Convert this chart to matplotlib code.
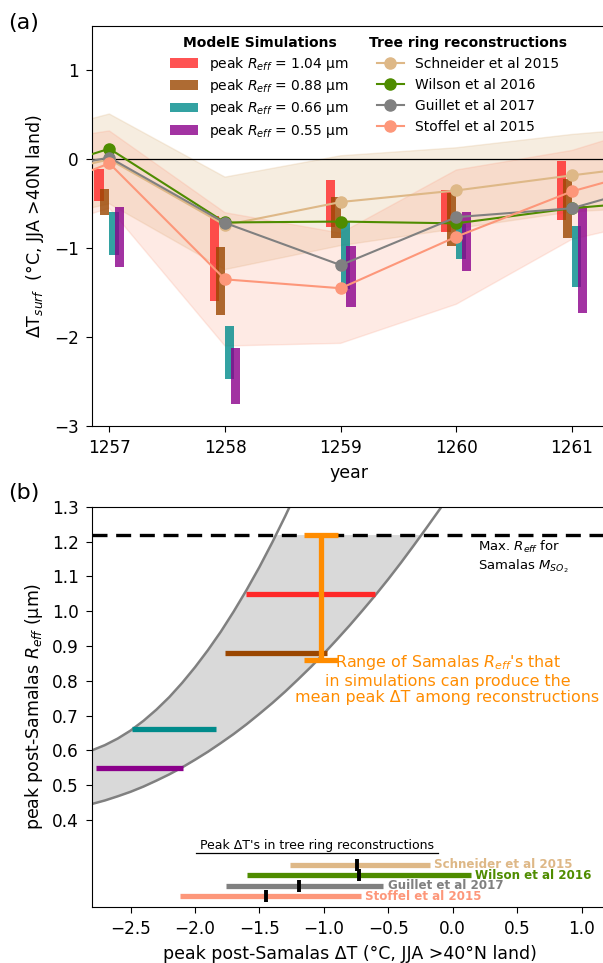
import matplotlib
matplotlib.use("Agg")
import matplotlib.pyplot as plt
import numpy as np
from matplotlib.lines import Line2D
from matplotlib.patches import Patch

# ---------------- panel (a): ModelE simulations ----------------
YEARS = [1257, 1258, 1259, 1260, 1261]
SIM_LABELS = ["1.04", "0.88", "0.66", "0.55"]
SIM_COLORS = ["#ff2828", "#9a4600", "#008b8b", "#8b008b"]
SIM_104_TOP = [-0.11, -0.64, -0.23, -0.34, -0.02]
SIM_104_BOT = [-0.47, -1.59, -0.76, -0.82, -0.68]
SIM_088_TOP = [-0.33, -0.99, -0.42, -0.38, -0.22]
SIM_088_BOT = [-0.63, -1.75, -0.89, -0.98, -0.89]
SIM_066_TOP = [-0.59, -1.87, -0.71, -0.73, -0.75]
SIM_066_BOT = [-1.08, -2.47, -1.46, -1.12, -1.44]
SIM_055_TOP = [-0.54, -2.12, -0.98, -0.59, -0.52]
SIM_055_BOT = [-1.21, -2.75, -1.66, -1.26, -1.73]

# ---------------- panel (a): tree ring reconstructions ----------------
RECON_YEARS = [1256, 1257, 1258, 1259, 1260, 1261, 1262]
RECON_NAMES = ["Schneider et al 2015", "Wilson et al 2016",
               "Guillet et al 2017", "Stoffel et al 2015"]
RECON_COLORS = ["#deb887", "#4f8c00", "#808080", "#fd977a"]
SCHNEIDER = [-0.30, 0.00, -0.74, -0.48, -0.35, -0.18, -0.02]
WILSON = [-0.29, 0.12, -0.71, -0.70, -0.72, -0.55, -0.44]
GUILLET = [-0.22, 0.02, -0.715, -1.19, -0.65, -0.55, -0.18]
STOFFEL = [-0.55, -0.045, -1.35, -1.45, -0.87, -0.36, 0.00]
SCHNEIDER_UP = [0.17, 0.51, -0.20, 0.04, 0.13, 0.28, 0.39]
SCHNEIDER_LO = [-0.80, -0.50, -1.24, -0.97, -0.78, -0.59, -0.52]
STOFFEL_UP = [0.12, 0.32, -0.60, -0.83, -0.12, 0.10, 0.50]
STOFFEL_LO = [-0.95, -0.55, -2.10, -2.07, -1.63, -0.90, -0.60]

# ---------------- panel (b) ----------------
SIM_REFF = [1.05, 0.88, 0.66, 0.55]
SIM_DT_MIN = [-1.607, -1.768, -2.487, -2.766]
SIM_DT_MAX = [-0.607, -0.973, -1.835, -2.094]

RECON_DT_MIN = [-1.266, -1.594, -1.758, -2.114]
RECON_DT_MAX = [-0.176, 0.140, -0.538, -0.714]
RECON_DT_MEAN = [-0.74, -0.725, -1.19, -1.45]

UPPER_CURVE_DT = [-2.8, -2.7, -2.6, -2.5, -2.4, -2.3, -2.2, -2.1, -2.0,
                  -1.9, -1.8, -1.7, -1.6, -1.5, -1.4, -1.3, -1.2]
UPPER_CURVE_REFF = [0.600, 0.615, 0.634, 0.657, 0.685, 0.717, 0.753, 0.794,
                    0.839, 0.888, 0.941, 0.999, 1.061, 1.127, 1.198, 1.273,
                    1.352]
LOWER_CURVE_DT = [-2.8, -2.7, -2.6, -2.5, -2.4, -2.3, -2.2, -2.1, -2.0,
                  -1.9, -1.8, -1.7, -1.6, -1.5, -1.4, -1.3, -1.2, -1.1,
                  -1.0, -0.9, -0.8, -0.7, -0.6, -0.5, -0.4, -0.3, -0.2,
                  -0.1, 0.0]
LOWER_CURVE_REFF = [0.446, 0.456, 0.468, 0.481, 0.496, 0.513, 0.531, 0.551,
                    0.573, 0.596, 0.621, 0.647, 0.675, 0.705, 0.736, 0.769,
                    0.804, 0.840, 0.878, 0.918, 0.959, 1.002, 1.046, 1.092,
                    1.140, 1.190, 1.241, 1.293, 1.348]

MAX_REFF = 1.22
RANGE_DT = -1.025
RANGE_REFF = [0.86, 1.22]

plt.rcParams["font.family"] = "DejaVu Sans"

fig = plt.figure(figsize=(6.03, 9.63), dpi=100)
ax_a = fig.add_axes([0.1526, 0.5576, 0.8536, 0.4154])
ax_b = fig.add_axes([0.1526, 0.0582, 0.8545, 0.4156])

# ---------- panel (a) ----------
ax_a.fill_between(RECON_YEARS, SCHNEIDER_LO, SCHNEIDER_UP,
                  color=RECON_COLORS[0], alpha=0.25, zorder=1)
ax_a.fill_between(RECON_YEARS, STOFFEL_LO, STOFFEL_UP,
                  color=RECON_COLORS[3], alpha=0.2, zorder=1)
ax_a.axhline(0, color="black", lw=0.9, zorder=2)

sim_tops = [SIM_104_TOP, SIM_088_TOP, SIM_066_TOP, SIM_055_TOP]
sim_bots = [SIM_104_BOT, SIM_088_BOT, SIM_066_BOT, SIM_055_BOT]
offsets = [-0.09, -0.04, 0.04, 0.09]
for top, bot, off, color in zip(sim_tops, sim_bots, offsets, SIM_COLORS):
    x = np.asarray(YEARS) + off
    ax_a.bar(x, np.asarray(top) - np.asarray(bot), bottom=bot, width=0.08,
             color=color, alpha=0.8, zorder=3)

for series, color in zip([SCHNEIDER, WILSON, GUILLET, STOFFEL], RECON_COLORS):
    ax_a.plot(RECON_YEARS, series, color=color, marker="o", ms=8, lw=1.5,
              zorder=4)

ax_a.set_xlim(1256.85, 1261.3)
ax_a.set_ylim(-3, 1.5)
ax_a.set_xticks(YEARS)
ax_a.set_yticks([-3, -2, -1, 0, 1])
ax_a.tick_params(labelsize=12.2, length=4.5, pad=5)
ax_a.set_xlabel("year", fontsize=12.5, labelpad=5)
ax_a.set_ylabel("ΔT$_{surf}$  (°C, JJA >40N land)", fontsize=12.5,
                labelpad=6)
ax_a.spines["right"].set_visible(False)

sim_handles = [Patch(facecolor=c, alpha=0.8) for c in SIM_COLORS]
sim_texts = [f"peak $R_{{eff}}$ = {r} µm" for r in SIM_LABELS]
leg1 = ax_a.legend(sim_handles, sim_texts, title="ModelE Simulations",
                   loc="upper left", bbox_to_anchor=(0.128, 1.006),
                   frameon=False, fontsize=10, labelspacing=0.32,
                   title_fontproperties={"weight": "bold", "size": 10})
ax_a.add_artist(leg1)
recon_handles = [Line2D([], [], color=c, marker="o", ms=8, lw=1.5)
                 for c in RECON_COLORS]
ax_a.legend(recon_handles, RECON_NAMES, title="Tree ring reconstructions",
            loc="upper left", bbox_to_anchor=(0.514, 1.006),
            frameon=False, fontsize=10, labelspacing=0.5,
            title_fontproperties={"weight": "bold", "size": 10})

# ---------- panel (b) ----------
yy = np.linspace(min(LOWER_CURVE_REFF), MAX_REFF, 400)
x_left = np.interp(yy, UPPER_CURVE_REFF, UPPER_CURVE_DT)
x_right = np.interp(yy, LOWER_CURVE_REFF, LOWER_CURVE_DT)
ax_b.fill_betweenx(yy, x_left, x_right, color="#d9d9d9", lw=0, zorder=1)
ax_b.plot(UPPER_CURVE_DT, UPPER_CURVE_REFF, color="#808080", lw=1.8, zorder=2)
ax_b.plot(LOWER_CURVE_DT, LOWER_CURVE_REFF, color="#808080", lw=1.8, zorder=2)

ax_b.axhline(MAX_REFF, color="black", lw=2.4, ls=(0, (4.5, 2.6)), zorder=3)

for reff, lo, hi, color in zip(SIM_REFF, SIM_DT_MIN, SIM_DT_MAX, SIM_COLORS):
    ax_b.plot([lo, hi], [reff, reff], color=color, lw=3.8,
              solid_capstyle="butt", zorder=4)

ax_b.errorbar(RANGE_DT, np.mean(RANGE_REFF),
              yerr=(RANGE_REFF[1] - RANGE_REFF[0]) / 2, fmt="none",
              ecolor="darkorange", elinewidth=3.8, capsize=12.5, capthick=3.8,
              zorder=5)

recon_y = 0.271 - 0.03 * np.arange(len(RECON_NAMES))
for y, lo, hi, mean, name, color in zip(recon_y, RECON_DT_MIN, RECON_DT_MAX,
                                        RECON_DT_MEAN, RECON_NAMES,
                                        RECON_COLORS):
    ax_b.plot([lo, hi], [y, y], color=color, lw=3.8, solid_capstyle="butt",
              zorder=4)
    ax_b.plot([mean], [y], marker="|", ms=8, mew=2.8, color="black", zorder=5)
    ax_b.annotate(name, (hi, y), xytext=(3, 0), textcoords="offset points",
                  va="center", ha="left", fontsize=8.6, fontweight="bold",
                  color=color)

peak_txt = ax_b.text(-1.056, 0.326, "Peak ΔT's in tree ring reconstructions",
                     ha="center", va="center", fontsize=9)

ax_b.text(-0.04, 0.805,
          "Range of Samalas $R_{eff}$'s that\nin simulations can produce the\n"
          "mean peak ΔT among reconstructions",
          ha="center", va="center", fontsize=11.4, color="darkorange",
          linespacing=1.1)
ax_b.text(0.194, 1.157, "Max. $R_{eff}$ for\nSamalas $M_{SO_2}$",
          ha="left", va="center", fontsize=9.5)

ax_b.set_xlim(-2.8, 1.2)
ax_b.set_ylim(0.15, 1.3)
ax_b.set_xticks([-2.5, -2.0, -1.5, -1.0, -0.5, 0.0, 0.5, 1.0])
ax_b.set_yticks([0.4, 0.5, 0.6, 0.7, 0.8, 0.9, 1.0, 1.1, 1.2, 1.3])
ax_b.tick_params(labelsize=12.2, length=4.5, pad=5)
ax_b.set_xlabel("peak post-Samalas ΔT (°C, JJA >40°N land)", fontsize=12.5,
                labelpad=5)
ax_b.set_ylabel("peak post-Samalas $R_{eff}$ (µm)", fontsize=12.5,
                labelpad=5)
ax_b.spines["right"].set_visible(False)

fig.text(0.013, 1 - 23 / 963, "(a)", fontsize=16, va="center")
fig.text(0.013, 1 - 493 / 963, "(b)", fontsize=16, va="center")

# underline for the small heading, taken from the drawn text extent
fig.canvas.draw()
bb = peak_txt.get_window_extent()
inv = fig.transFigure.inverted()
(x0, y0), (x1, _) = inv.transform([(bb.x0 - 4, bb.y0 - 1), (bb.x1 + 4, bb.y0)])
fig.add_artist(Line2D([x0, x1], [y0, y0], color="black", lw=0.9,
                      transform=fig.transFigure))

fig.savefig("out.png", dpi=100)
